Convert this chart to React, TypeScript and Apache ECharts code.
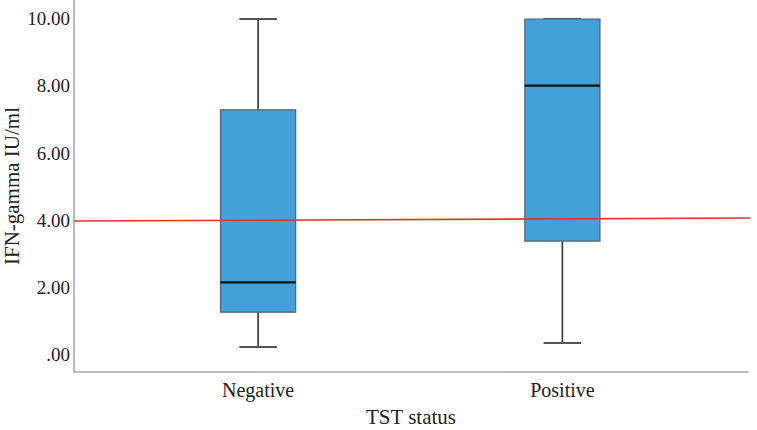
import React, { useEffect, useRef } from "react";
import * as echarts from "echarts";

const categories = ["Negative", "Positive"];
const catPositions = [1, 2];
const whiskerLow = [0.21, 0.33];
const q1 = [1.25, 3.37];
const median = [2.14, 8.01];
const q3 = [7.29, 10.0];
const whiskerHigh = [10.0, 10.0];
const yTickValues = [0, 2, 4, 6, 8, 10];
const yTickLabels = [".00", "2.00", "4.00", "6.00", "8.00", "10.00"];
const refLineX = [0.395, 2.64];
const refLineY = [3.97, 4.06];

const FONT = "'Liberation Serif', 'DejaVu Serif', serif";

export default function App() {
  const ref = useRef<HTMLDivElement>(null);
  useEffect(() => {
    if (!ref.current) return;
    const chart = echarts.init(ref.current, undefined, { renderer: "svg" });
    const boxData = categories.map((_, i) => [
      catPositions[i],
      whiskerLow[i],
      q1[i],
      median[i],
      q3[i],
      whiskerHigh[i],
    ]);
    const boxWidthUnits = 0.247;
    const renderItem = (params: any, api: any) => {
      const x = api.value(0);
      const pMin = api.coord([x, api.value(1)]);
      const pQ1 = api.coord([x, api.value(2)]);
      const pMed = api.coord([x, api.value(3)]);
      const pQ3 = api.coord([x, api.value(4)]);
      const pMax = api.coord([x, api.value(5)]);
      const w = api.size([boxWidthUnits, 0])[0];
      const cx = pMed[0];
      const half = w / 2;
      const capHalf = w / 4;
      const whiskerStyle = { stroke: "#333333", lineWidth: 1.6 };
      const capStyle = { stroke: "#555555", lineWidth: 2 };
      return {
        type: "group",
        children: [
          { type: "line", shape: { x1: cx, y1: pMax[1], x2: cx, y2: pQ3[1] }, style: whiskerStyle },
          { type: "line", shape: { x1: cx, y1: pQ1[1], x2: cx, y2: pMin[1] }, style: whiskerStyle },
          { type: "line", shape: { x1: cx - capHalf, y1: pMax[1], x2: cx + capHalf, y2: pMax[1] }, style: capStyle },
          { type: "line", shape: { x1: cx - capHalf, y1: pMin[1], x2: cx + capHalf, y2: pMin[1] }, style: capStyle },
          {
            type: "rect",
            shape: { x: cx - half, y: pQ3[1], width: w, height: pQ1[1] - pQ3[1] },
            style: { fill: "#43a1d9", stroke: "#5a5f66", lineWidth: 1.2 },
          },
          {
            type: "line",
            shape: { x1: cx - half, y1: pMed[1], x2: cx + half, y2: pMed[1] },
            style: { stroke: "#111111", lineWidth: 2.2 },
          },
        ],
      };
    };
    chart.setOption({
      animation: false,
      backgroundColor: "#ffffff",
      grid: { left: 74, right: 9, top: 0, bottom: 58, containLabel: false, outerBoundsMode: "none" },
      xAxis: {
        type: "value",
        min: 0.395,
        max: 2.61,
        name: "TST status",
        nameLocation: "middle",
        nameGap: 34,
        nameMoveOverlap: false,
        nameTextStyle: { fontFamily: FONT, fontSize: 21, color: "#222" },
        axisLine: { show: true, onZero: false, lineStyle: { color: "#a8a8a8", width: 1.6 } },
        axisTick: { show: false },
        splitLine: { show: false },
        axisLabel: {
          customValues: catPositions,
          margin: 8,
          fontFamily: FONT,
          fontSize: 20,
          color: "#222",
          formatter: (v: number) => {
            const idx = catPositions.indexOf(Math.round(v));
            return idx >= 0 ? categories[idx] : "";
          },
        },
      },
      yAxis: {
        type: "value",
        min: -0.537,
        max: 10.567,
        name: "IFN-gamma IU/ml",
        nameLocation: "middle",
        nameGap: 52,
        nameMoveOverlap: false,
        nameTextStyle: { fontFamily: FONT, fontSize: 21, color: "#222" },
        axisLine: { show: true, onZero: false, lineStyle: { color: "#a8a8a8", width: 1.6 } },
        axisTick: { show: false },
        splitLine: { show: false },
        axisLabel: {
          customValues: yTickValues,
          margin: 4,
          fontFamily: FONT,
          fontSize: 19,
          color: "#222",
          formatter: (v: number) => {
            const idx = yTickValues.findIndex((t) => Math.abs(t - v) < 1e-6);
            return idx >= 0 ? yTickLabels[idx] : "";
          },
        },
      },
      series: [
        {
          type: "custom",
          renderItem,
          data: boxData,
          encode: { x: 0, y: [1, 2, 3, 4, 5] },
          clip: false,
          z: 2,
        },
        {
          type: "line",
          data: refLineX.map((x, i) => [x, refLineY[i]]),
          symbol: "none",
          clip: false,
          lineStyle: { color: "#e0322f", width: 1.6 },
          z: 5,
        },
      ],
    });
    return () => chart.dispose();
  }, []);
  return (
    <div
      ref={ref}
      style={{ position: "fixed", left: 0, top: 0, width: 757, height: 430 }}
    />
  );
}
